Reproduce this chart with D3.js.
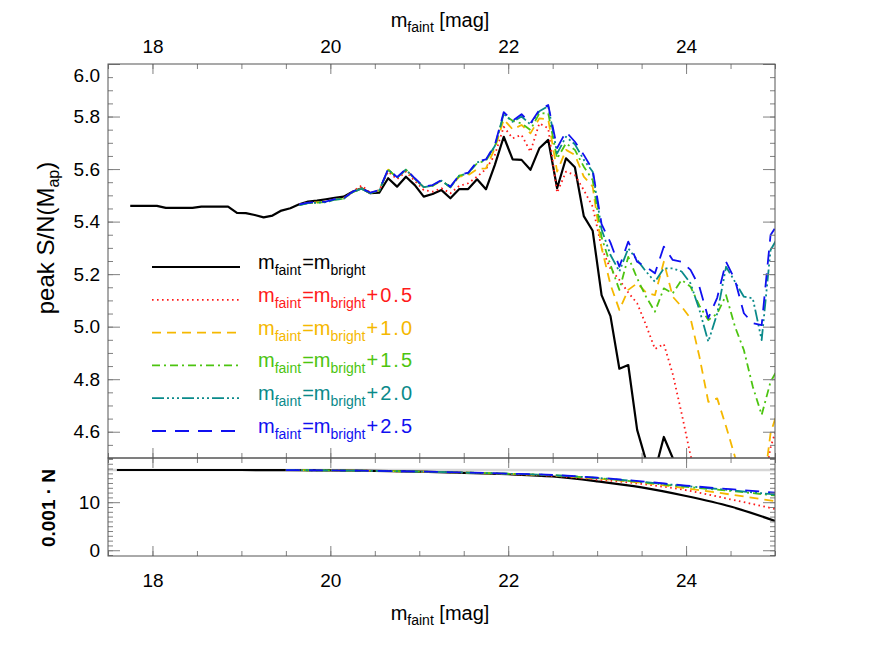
<!DOCTYPE html>
<html>
<head>
<meta charset="utf-8">
<script src="https://cdn.jsdelivr.net/npm/d3@7"></script>
<style>
    body { margin: 0; background: #fff; }
    svg { display: block; font-family: 'Liberation Sans', Arial, Helvetica, sans-serif; }
</style>
</head>
<body>
<svg width="887" height="654"></svg>
<script>
// magnitude bins (bin centres) of the peak S/N curves
const magBins = [
    17.75, 17.85, 17.95, 18.05, 18.15, 18.25, 18.35, 18.45, 18.55, 18.65,
    18.75, 18.85, 18.95, 19.05, 19.15, 19.25, 19.35, 19.45, 19.55, 19.65,
    19.75, 19.85, 19.95, 20.05, 20.15, 20.25, 20.35, 20.45, 20.55, 20.65,
    20.75, 20.85, 20.95, 21.05, 21.15, 21.25, 21.35, 21.45, 21.55, 21.65,
    21.75, 21.85, 21.95, 22.05, 22.15, 22.25, 22.35, 22.45, 22.55, 22.65,
    22.75, 22.85, 22.95, 23.05, 23.15, 23.25, 23.35, 23.45, 23.55, 23.65,
    23.75, 23.85, 23.95, 24.05, 24.15, 24.25, 24.35, 24.45, 24.55, 24.65,
    24.75, 24.85, 24.95, 25.05
]

// peak S/N, m_faint = m_bright (all bins)
const snrEqual = [
    5.460, 5.460, 5.460, 5.460, 5.452, 5.452, 5.452, 5.452, 5.457, 5.457,
    5.457, 5.457, 5.433, 5.432, 5.425, 5.416, 5.423, 5.442, 5.451, 5.466,
    5.476, 5.480, 5.485, 5.490, 5.495, 5.514, 5.527, 5.508, 5.510, 5.565,
    5.533, 5.571, 5.539, 5.495, 5.505, 5.520, 5.489, 5.524, 5.524, 5.561,
    5.523, 5.616, 5.723, 5.637, 5.635, 5.597, 5.679, 5.711, 5.527, 5.641,
    5.607, 5.421, 5.365, 5.120, 5.040, 4.840, 4.854, 4.607, 4.490, 4.450,
    4.580, 4.500, 4.400, 4.350, 4.320, 4.300, 4.280, 4.250, 4.220, 4.200,
    4.180, 4.150, 4.120, 4.100
]

// the offset curves start at 19.65 (last bins of magBins)
const snrPlus05 = [
    5.466, 5.472, 5.474, 5.476, 5.486, 5.489, 5.514, 5.537, 5.510, 5.520,
    5.590, 5.562, 5.590, 5.555, 5.520, 5.514, 5.527, 5.508, 5.536, 5.546,
    5.571, 5.600, 5.654, 5.761, 5.717, 5.730, 5.666, 5.774, 5.755, 5.510,
    5.590, 5.577, 5.520, 5.457, 5.300, 5.220, 5.178, 5.130, 5.089, 5.006,
    4.915, 4.934, 4.820, 4.670, 4.510, 4.400, 4.350, 4.320, 4.300, 4.280,
    4.270, 4.300, 4.350, 4.540, 4.650
]
const snrPlus10 = [
    5.464, 5.471, 5.473, 5.475, 5.485, 5.488, 5.513, 5.526, 5.509, 5.519,
    5.598, 5.567, 5.598, 5.563, 5.531, 5.537, 5.556, 5.531, 5.571, 5.577,
    5.600, 5.603, 5.679, 5.789, 5.751, 5.768, 5.736, 5.793, 5.790, 5.590,
    5.673, 5.654, 5.571, 5.533, 5.300, 5.160, 5.064, 5.140, 5.165, 5.130,
    5.120, 5.247, 5.114, 5.076, 5.032, 4.886, 4.714, 4.727, 4.620, 4.505,
    4.400, 4.350, 4.330, 4.594, 4.700
]
const snrPlus15 = [
    5.463, 5.470, 5.472, 5.474, 5.484, 5.487, 5.512, 5.525, 5.508, 5.518,
    5.598, 5.567, 5.598, 5.563, 5.531, 5.537, 5.556, 5.531, 5.575, 5.584,
    5.622, 5.632, 5.685, 5.806, 5.784, 5.774, 5.749, 5.812, 5.813, 5.640,
    5.698, 5.673, 5.609, 5.558, 5.340, 5.235, 5.140, 5.266, 5.184, 5.114,
    5.057, 5.146, 5.127, 5.178, 5.152, 5.080, 5.025, 5.050, 5.120, 5.000,
    4.911, 4.772, 4.664, 4.790, 4.850
]
const snrPlus20 = [
    5.463, 5.470, 5.472, 5.474, 5.484, 5.487, 5.512, 5.525, 5.508, 5.518,
    5.598, 5.567, 5.598, 5.563, 5.531, 5.537, 5.556, 5.531, 5.575, 5.584,
    5.625, 5.635, 5.688, 5.810, 5.780, 5.800, 5.770, 5.820, 5.840, 5.660,
    5.723, 5.694, 5.635, 5.590, 5.370, 5.273, 5.210, 5.298, 5.254, 5.210,
    5.171, 5.222, 5.222, 5.210, 5.165, 5.064, 4.943, 5.050, 5.228, 5.171,
    5.114, 5.108, 4.949, 5.292, 5.350
]
const snrPlus25 = [
    5.466, 5.472, 5.474, 5.476, 5.486, 5.489, 5.514, 5.527, 5.510, 5.520,
    5.600, 5.569, 5.600, 5.565, 5.533, 5.539, 5.558, 5.533, 5.577, 5.586,
    5.628, 5.637, 5.692, 5.817, 5.784, 5.809, 5.774, 5.825, 5.844, 5.680,
    5.742, 5.704, 5.654, 5.597, 5.390, 5.320, 5.228, 5.324, 5.247, 5.228,
    5.203, 5.305, 5.254, 5.247, 5.216, 5.152, 5.032, 5.110, 5.247, 5.178,
    5.051, 5.013, 5.006, 5.349, 5.400
]

// lower panel: number of galaxies / 1000
const countMags = [17.6, 18.0, 18.5, 19.0, 19.5, 20.0, 20.5, 21.0, 21.5, 22.0, 22.5, 23.0, 23.5, 24.0, 24.5, 25.0]
const countEqual = [16.7, 16.7, 16.7, 16.7, 16.68, 16.62, 16.52, 16.35, 16.12, 15.82, 15.35, 14.35, 13.1, 11.3, 9.1, 6.1]
const countPlus05 = [16.68, 16.62, 16.52, 16.35, 16.15, 15.85, 15.45, 14.7, 13.8, 12.5, 10.6, 8.6]
const countPlus10 = [16.68, 16.62, 16.52, 16.36, 16.17, 15.9, 15.55, 14.9, 14.05, 12.9, 11.6, 10.2]
const countPlus15 = [16.68, 16.62, 16.52, 16.37, 16.18, 15.92, 15.6, 15.0, 14.15, 13.2, 12.35, 11.4]
const countPlus20 = [16.68, 16.62, 16.52, 16.37, 16.18, 15.93, 15.62, 15.05, 14.25, 13.35, 12.5, 11.6]
const countPlus25 = [16.68, 16.62, 16.52, 16.37, 16.19, 15.95, 15.66, 15.1, 14.35, 13.45, 12.7, 12.0]
const countTotal = 16.7

const offsetLabels = ['', '+0.5', '+1.0', '+1.5', '+2.0', '+2.5']
const magTicks = [18, 20, 22, 24]
const snrTicks = [4.6, 4.8, 5.0, 5.2, 5.4, 5.6, 5.8, 6.0]
const countTicks = [0, 10]

const series = [
    { snr: snrEqual, counts: countEqual, color: '#000000', dash: null, width: 2.2 },
    { snr: snrPlus05, counts: countPlus05, color: '#ff1a1a', dash: '1.6,3.4', width: 1.8 },
    { snr: snrPlus10, counts: countPlus10, color: '#f5b800', dash: '9,6', width: 1.8 },
    { snr: snrPlus15, counts: countPlus15, color: '#4cc410', dash: '8,4,2,4', width: 1.8 },
    { snr: snrPlus20, counts: countPlus20, color: '#0a8a8a', dash: '12,3,2,3,2,3,2,3', width: 1.8 },
    { snr: snrPlus25, counts: countPlus25, color: '#1010f0', dash: '14,9', width: 1.8 }
].map((s, i) => ({ ...s, label: offsetLabels[i] }))

const svg = d3.select('svg')
const left = 108
const right = 775
const font = "'Liberation Sans', Arial, Helvetica, sans-serif"

const x = d3.scaleLinear().domain([17.5, 25]).range([left, right])
const ySnr = d3.scaleLinear().domain([4.5, 6.0]).range([458, 64])
const yCount = d3.scaleLinear().domain([-1.2, 19.2]).range([556, 458])

const defs = svg.append('defs')
defs.append('clipPath').attr('id', 'clip-top')
    .append('rect').attr('x', left).attr('y', 64).attr('width', right - left).attr('height', 458 - 64)
defs.append('clipPath').attr('id', 'clip-bottom')
    .append('rect').attr('x', left).attr('y', 458).attr('width', right - left).attr('height', 556 - 458)

// ---- curves
const snrLine = d3.line().x(d => x(d[0])).y(d => ySnr(d[1]))
const countLine = d3.line().x(d => x(d[0])).y(d => yCount(d[1])).curve(d3.curveMonotoneX)

const topG = svg.append('g').attr('clip-path', 'url(#clip-top)')
const bottomG = svg.append('g').attr('clip-path', 'url(#clip-bottom)')

bottomG.append('line')
    .attr('x1', left).attr('x2', right)
    .attr('y1', yCount(countTotal)).attr('y2', yCount(countTotal))
    .attr('stroke', '#d6d6d6').attr('stroke-width', 2.5)

series.forEach(s => {
    const snrStart = magBins.length - s.snr.length
    const snrPts = s.snr.map((v, i) => [magBins[snrStart + i], v])
    const cStart = countMags.length - s.counts.length
    const cPts = s.counts.map((v, i) => [countMags[cStart + i], v])

    topG.append('path')
        .attr('d', snrLine(snrPts))
        .attr('fill', 'none')
        .attr('stroke', s.color)
        .attr('stroke-width', s.width)
        .attr('stroke-dasharray', s.dash)
        .attr('stroke-linejoin', 'round')

    bottomG.append('path')
        .attr('d', countLine(cPts))
        .attr('fill', 'none')
        .attr('stroke', s.color)
        .attr('stroke-width', s.width)
        .attr('stroke-dasharray', s.dash)
})

// ---- axes
function styleAxis(g) {
    g.select('.domain').remove()
    g.selectAll('line').attr('stroke', '#808080')
    g.selectAll('text').attr('font-size', 19).attr('font-family', font).attr('fill', '#000')
    return g
}

const minorMags = d3.range(17.5, 25.01, 0.5)
const minorSnr = d3.range(4.5, 6.001, 0.05)
const minorCount = d3.range(-1, 19.5, 1)

function addAxis(axis, tx, ty) {
    return svg.append('g').attr('transform', `translate(${tx},${ty})`).call(axis).call(styleAxis)
}

// top panel
addAxis(d3.axisTop(x).tickValues(minorMags).tickSize(-5).tickFormat(''), 0, 64)
addAxis(d3.axisTop(x).tickValues(magTicks).tickSize(-10).tickPadding(11).tickFormat(d3.format('d')), 0, 64)
addAxis(d3.axisBottom(x).tickValues(minorMags).tickSize(-5).tickFormat(''), 0, 458)
addAxis(d3.axisBottom(x).tickValues(magTicks).tickSize(-10).tickFormat(''), 0, 458)
addAxis(d3.axisLeft(ySnr).tickValues(minorSnr).tickSize(-5).tickFormat(''), left, 0)
const snrAxis = addAxis(d3.axisLeft(ySnr).tickValues(snrTicks).tickSize(-12).tickPadding(8).tickFormat(d3.format('.1f')), left, 0)
snrAxis.selectAll('text').filter(d => d === 6.0).attr('dy', '0.9em')
addAxis(d3.axisRight(ySnr).tickValues(minorSnr).tickSize(-5).tickFormat(''), right, 0)
addAxis(d3.axisRight(ySnr).tickValues(snrTicks).tickSize(-12).tickFormat(''), right, 0)

// bottom panel
addAxis(d3.axisTop(x).tickValues(minorMags).tickSize(-5).tickFormat(''), 0, 458)
addAxis(d3.axisTop(x).tickValues(magTicks).tickSize(-10).tickFormat(''), 0, 458)
addAxis(d3.axisBottom(x).tickValues(minorMags).tickSize(-5).tickFormat(''), 0, 556)
addAxis(d3.axisBottom(x).tickValues(magTicks).tickSize(-10).tickPadding(18).tickFormat(d3.format('d')), 0, 556)
addAxis(d3.axisLeft(yCount).tickValues(minorCount).tickSize(-5).tickFormat(''), left, 0)
addAxis(d3.axisLeft(yCount).tickValues(countTicks).tickSize(-12).tickPadding(8).tickFormat(d3.format('d')), left, 0)
addAxis(d3.axisRight(yCount).tickValues(minorCount).tickSize(-5).tickFormat(''), right, 0)
addAxis(d3.axisRight(yCount).tickValues(countTicks).tickSize(-12).tickFormat(''), right, 0)

// frames
svg.append('rect').attr('x', left).attr('y', 64).attr('width', right - left).attr('height', 458 - 64)
    .attr('fill', 'none').attr('stroke', '#555').attr('stroke-width', 1)
svg.append('rect').attr('x', left).attr('y', 458).attr('width', right - left).attr('height', 556 - 458)
    .attr('fill', 'none').attr('stroke', '#555').attr('stroke-width', 1)

// ---- titles
function magTitle(y) {
    const t = svg.append('text')
        .attr('x', 440).attr('y', y)
        .attr('text-anchor', 'middle')
        .attr('font-size', 20).attr('font-family', font)
    t.append('tspan').text('m')
    t.append('tspan').attr('font-size', 14).attr('dy', 5).text('faint')
    t.append('tspan').attr('dy', -5).text(' [mag]')
}
magTitle(27)
magTitle(620)

const yTitle = svg.append('text')
    .attr('transform', 'translate(54,238) rotate(-90)')
    .attr('text-anchor', 'middle')
    .attr('font-size', 24).attr('font-family', font)
yTitle.append('tspan').text('peak S/N(M')
yTitle.append('tspan').attr('font-size', 16).attr('dy', 5).text('ap')
yTitle.append('tspan').attr('dy', -5).text(')')

svg.append('text')
    .attr('transform', 'translate(55,508) rotate(-90)')
    .attr('text-anchor', 'middle')
    .attr('font-size', 19).attr('font-weight', 'bold').attr('font-family', font)
    .text('0.001 · N')

// ---- legend
const legendY = d3.scalePoint().domain(d3.range(series.length)).range([267, 431])
const legend = svg.append('g')
series.forEach((s, i) => {
    const y = legendY(i)
    legend.append('line')
        .attr('x1', 152).attr('x2', 240)
        .attr('y1', y).attr('y2', y)
        .attr('stroke', s.color)
        .attr('stroke-width', s.width)
        .attr('stroke-dasharray', s.dash)
    const t = legend.append('text')
        .attr('x', 258).attr('y', y + 2)
        .attr('font-size', 20).attr('font-family', font)
        .attr('fill', s.color)
    t.append('tspan').text('m')
    t.append('tspan').attr('font-size', 14).attr('dy', 6).text('faint')
    t.append('tspan').attr('dy', -6).attr('dx', 1).text('=m')
    t.append('tspan').attr('font-size', 14).attr('dy', 6).text('bright')
    t.append('tspan').attr('dy', -6).attr('dx', 1).attr('letter-spacing', 2).text(s.label)
})
</script>
</body>
</html>
